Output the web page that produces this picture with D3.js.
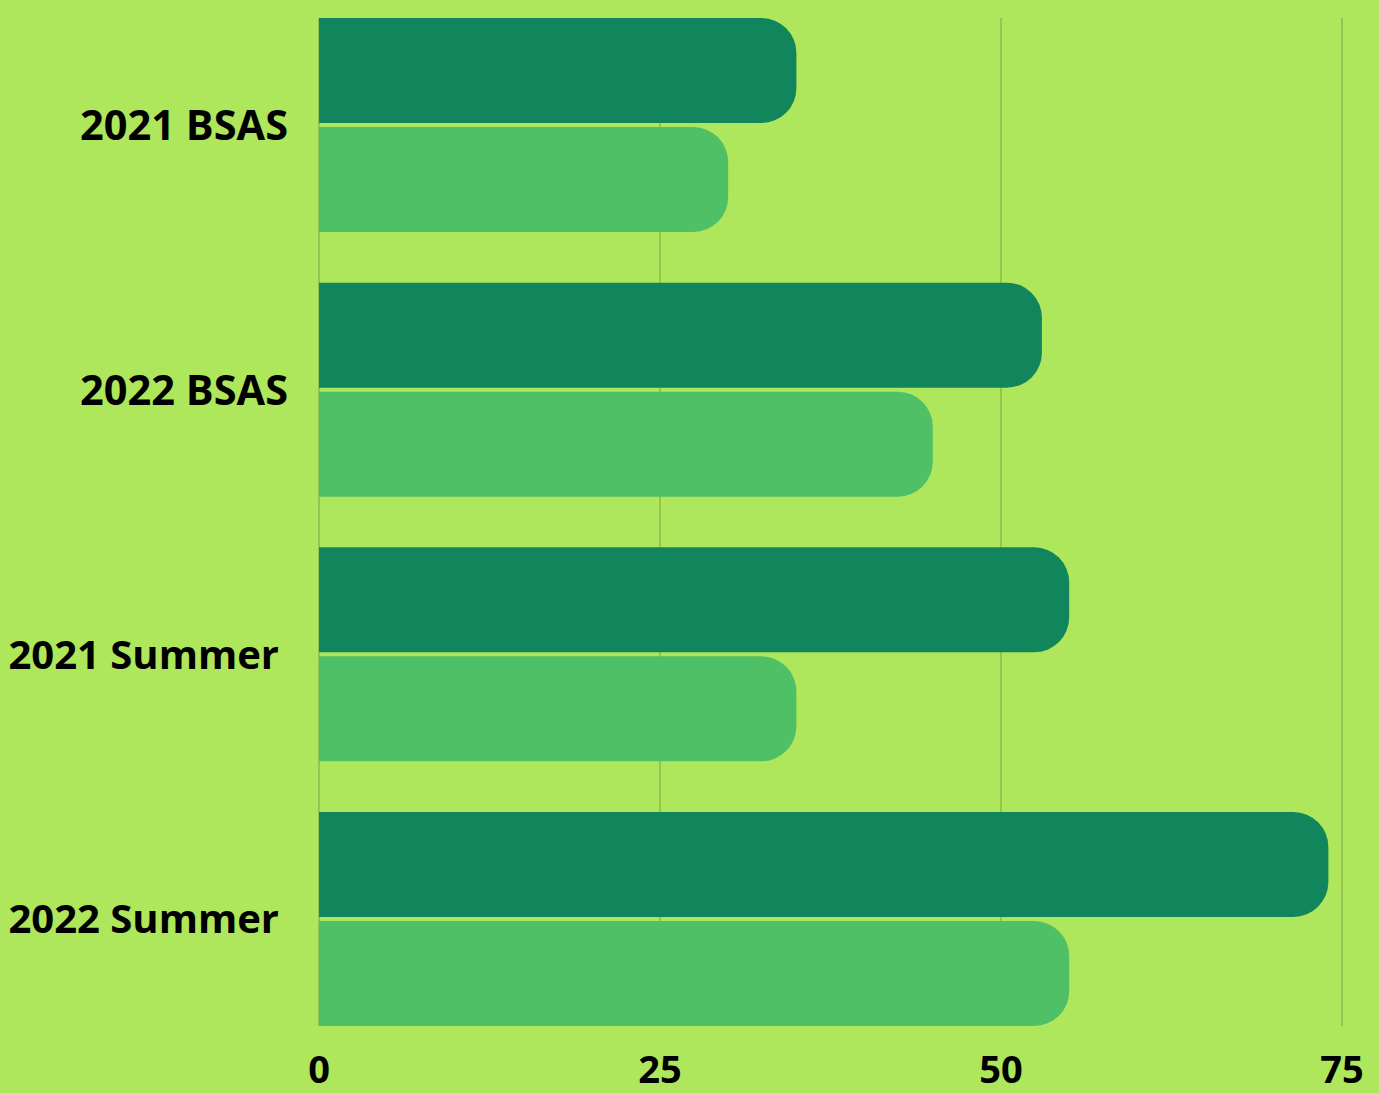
<!DOCTYPE html>
<html>
<head>
<meta charset="utf-8">
<script src="https://cdn.jsdelivr.net/npm/d3@7"></script>
<style>
html,body{margin:0;padding:0;background:#aee75b;}
svg{display:block;}
text{font-family:"Open Sans",sans-serif;font-weight:700;fill:#000;}
</style>
</head>
<body>
<svg id="chart" width="1379" height="1093"></svg>
<script>
const categories = ["2021 BSAS", "2022 BSAS", "2021 Summer", "2022 Summer"];
const seriesNames = ["Series A", "Series B"];
const seriesA = [35, 53, 55, 74];
const seriesB = [30, 45, 35, 55];
const xTicks = [0, 25, 50, 75];

const colors = ["#11865d", "#50c066"];
const W = 1379, H = 1093;
const svg = d3.select("#chart");
svg.append("rect").attr("width", W).attr("height", H).attr("fill", "#aee75b");

const x = d3.scaleLinear().domain([0, 75]).range([319, 1342]);
const y = d3.scaleBand().domain(categories).range([18, 1026]).paddingInner(0.1914).paddingOuter(0);
const ys = d3.scaleBand().domain(seriesNames).range([0, y.bandwidth()]).paddingInner(0.037);

// gridlines
svg.append("g").selectAll("line").data(xTicks).join("line")
  .attr("x1", d => x(d)).attr("x2", d => x(d))
  .attr("y1", 18).attr("y2", 1026)
  .attr("stroke", "#8cb84c").attr("stroke-width", 1.5);

const data = categories.map((c, i) => ({cat: c, vals: [seriesA[i], seriesB[i]]}));

function barPath(x0, y0, w, h, r) {
  r = Math.min(r, w, h / 2);
  return `M${x0},${y0}H${x0 + w - r}A${r},${r} 0 0 1 ${x0 + w},${y0 + r}V${y0 + h - r}A${r},${r} 0 0 1 ${x0 + w - r},${y0 + h}H${x0}Z`;
}

const g = svg.append("g");
data.forEach(d => {
  d.vals.forEach((v, j) => {
    const y0 = y(d.cat) + ys(seriesNames[j]);
    g.append("path")
      .attr("d", barPath(x(0), y0, x(v) - x(0), ys.bandwidth(), 35))
      .attr("fill", colors[j]);
  });
});

// category labels
svg.append("g").selectAll("text").data(categories).join("text")
  .attr("x", d => d.includes("Summer") ? 279 : 288)
  .attr("y", d => y(d) + y.bandwidth() / 2)
  .attr("dy", "0.36em")
  .attr("text-anchor", "end")
  .style("font-size", d => d.includes("Summer") ? "40px" : "41.5px")
  .text(d => d);

// x tick labels
svg.append("g").selectAll("text").data(xTicks).join("text")
  .attr("x", d => x(d))
  .attr("y", 1083)
  .attr("text-anchor", "middle")
  .style("font-size", "38px")
  .text(d => d);
</script>
</body>
</html>
